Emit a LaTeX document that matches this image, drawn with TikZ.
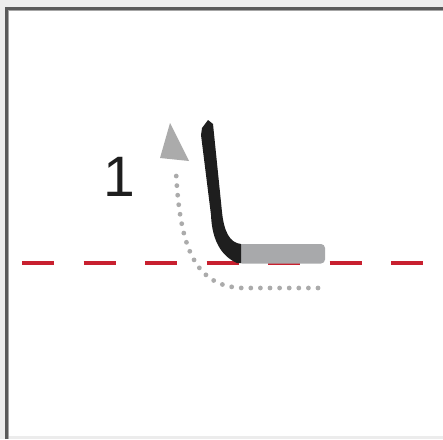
\documentclass[tikz,border=0pt]{standalone}
\usepackage{fontspec}
\setmainfont{Liberation Sans}
\usetikzlibrary{positioning,calc}
\definecolor{frameline}{HTML}{595959}
\definecolor{pagebg}{HTML}{ECECEC}
\definecolor{refred}{HTML}{C8202F}
\definecolor{bargray}{HTML}{A8A9AB}
\definecolor{dotgray}{HTML}{ABABAB}
\definecolor{stickblack}{HTML}{1E1E1E}

\begin{document}
\begin{tikzpicture}[x=1pt,y=-1pt,
  refline/.style={refred,line width=3.6pt,dash pattern=on 32pt off 29.5pt},
  pathdots/.style={dotgray,line width=4.8pt,line cap=round,dash pattern=on 0pt off 9.6pt},
  label/.style={font=\fontsize{57}{60}\selectfont,text=stickblack,inner sep=0pt}]
% ---- page and frame ----
\useasboundingbox (0,0) rectangle (443,439);
\fill[pagebg] (0,0) rectangle (443,439);
\fill[white] (8,10) rectangle (443,436);
\draw[frameline,line width=2.8pt] (6.5,439) -- (6.5,8.2) -- (443,8.2);
\draw[black!35,line width=1pt] (8.8,439) -- (8.8,10.5) -- (443,10.5);
% ---- reference level (dashed) ----
\coordinate (lvlL) at (22,263);
\coordinate (lvlR) at (424,263);
\draw[refline] (lvlL) -- (lvlR);
% ---- lower part: grey bar ----
\fill[bargray,rounded corners=4pt] (238,244) rectangle (325,263.5);
% ---- upper part: black stroke bending into the bar ----
\fill[stickblack] (208,120) -- (213,124) -- (222,212)
  .. controls (224,232) and (230,243) .. (241,244) -- (241,263) -- (237,263)
  .. controls (221,256) and (212,240) .. (211,215) -- (201,135) -- (202,128) -- cycle;
% ---- dotted motion path with head ----
\coordinate (pathstart) at (318,288);
\coordinate (pathbend) at (242,288);
\coordinate (pathend) at (176,172);
\draw[pathdots] (pathstart) -- (pathbend) .. controls (196,286) and (180,250) .. (pathend);
\fill[dotgray] (170,123) -- (189,161) -- (160,158) -- cycle;
% ---- step number ----
\node[label] (stepnum) at (119,177) {1};
\end{tikzpicture}
\end{document}
